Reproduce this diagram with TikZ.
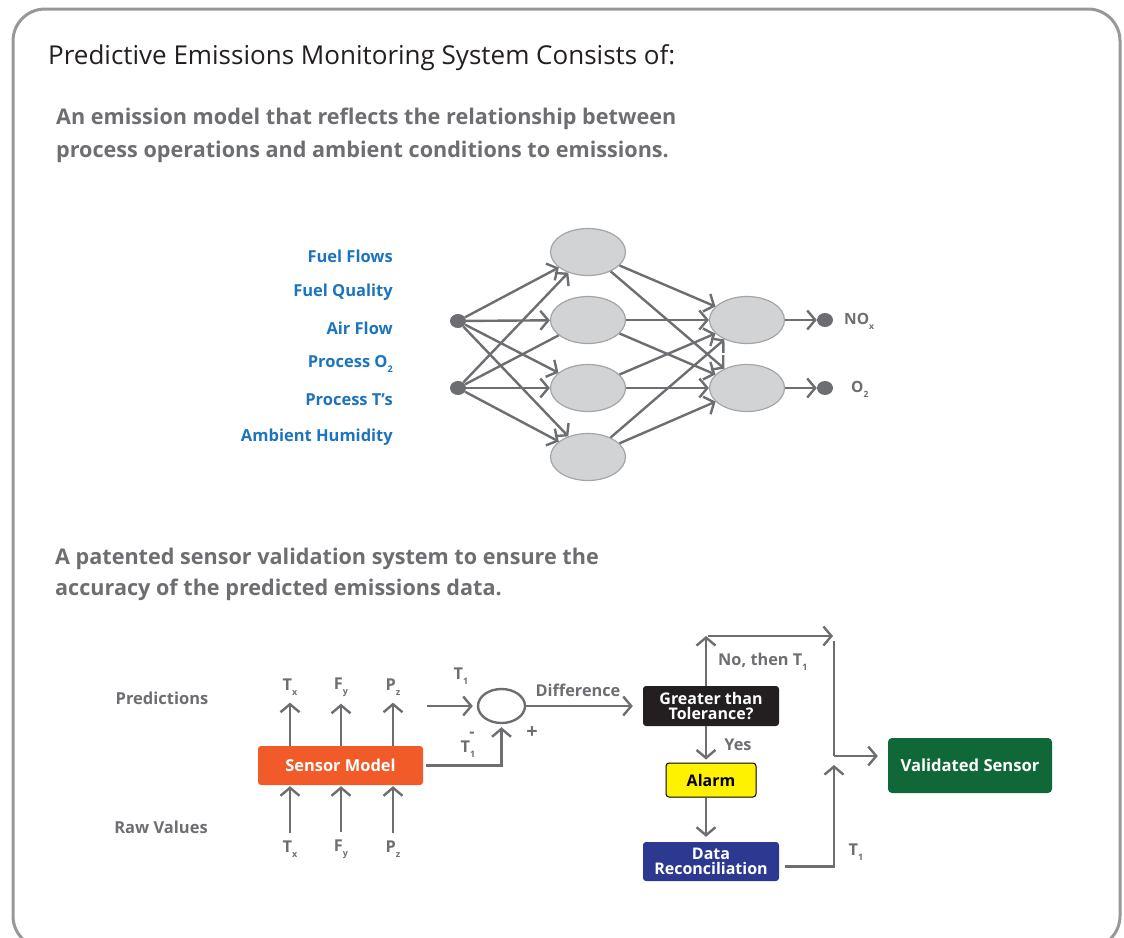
\documentclass[tikz,border=0pt]{standalone}
\usepackage{fontspec}
\setmainfont{Open Sans}
\usepackage{graphicx}
\usetikzlibrary{arrows.meta,shapes.geometric}

\definecolor{framegray}{HTML}{98989C}
\definecolor{inkgray}{HTML}{6D6E71}
\definecolor{titleink}{HTML}{231F20}
\definecolor{labelblue}{HTML}{1C75BC}
\definecolor{cellfill}{HTML}{D1D3D4}
\definecolor{celledge}{HTML}{A3A5A8}
\definecolor{modelorange}{HTML}{F15A29}
\definecolor{checkblack}{HTML}{231F20}
\definecolor{alarmyellow}{HTML}{FFF200}
\definecolor{reconblue}{HTML}{2B3990}
\definecolor{validgreen}{HTML}{106838}

\newcommand\lowsub[1]{\raisebox{-0.32em}{\scalebox{0.55}{#1}}}

\tikzset{
  conn/.style={draw=inkgray, line width=2.4pt,
    -{Straight Barb[length=8pt,width=19pt,line width=2.4pt]}},
  plain/.style={draw=inkgray, line width=2.4pt},
  cell/.style={ellipse, fill=cellfill, draw=celledge, line width=1.2pt,
    minimum width=75pt, minimum height=47pt, inner sep=0pt},
  dot/.style={ellipse, fill=inkgray, minimum width=16pt, minimum height=14pt, inner sep=0pt},
  inlabel/.style={text=labelblue, font=\fontsize{16.5}{20}\selectfont\bfseries, anchor=east, inner sep=0pt},
  glabel/.style={text=inkgray, font=\fontsize{16.3}{19}\selectfont\bfseries, inner sep=0pt},
  box/.style={rounded corners=3pt, text=white, align=center, inner sep=0pt,
    font=\fontsize{16}{17}\selectfont\bfseries},
}

\begin{document}
\begin{tikzpicture}[x=1pt,y=-1pt]
\useasboundingbox (0,0) rectangle (1124,937);

% outer frame, open at the bottom edge
\begin{scope}
  \clip (0,0) rectangle (1124,937);
  \draw[framegray, line width=3pt, rounded corners=32pt] (13,9) rectangle (1120,948);
\end{scope}

% headings
\node[anchor=west, inner sep=0pt, text=titleink, font=\fontsize{26}{30}\selectfont]
  (title) at (48,58) {Predictive Emissions Monitoring System Consists of:};
\node[anchor=north west, inner sep=0pt, text=inkgray, align=left,
  font=\fontsize{21.6}{33}\selectfont\bfseries] (model) at (56,108)
  {An emission model that reflects the relationship between\\
   process operations and ambient conditions to emissions.};
\node[anchor=north west, inner sep=0pt, text=inkgray, align=left,
  font=\fontsize{21.6}{31}\selectfont\bfseries] (valid) at (55,548)
  {A patented sensor validation system to ensure the\\
   accuracy of the predicted emissions data.};

% ---------- emission model network ----------
\node[inlabel] (l1) at (393,256) {Fuel Flows};
\node[inlabel] (l2) at (393,292) {Fuel Quality};
\node[inlabel] (l3) at (393,328) {Air Flow};
\node[inlabel] (l4) at (393,364) {Process O\lowsub{2}};
\node[inlabel] (l5) at (393,400) {Process T’s};
\node[inlabel] (l6) at (393,437) {Ambient Humidity};

\node[dot] (i1) at (458,321) {};
\node[dot] (i2) at (458,388) {};

\node[cell] (h1) at (588,252) {};
\node[cell] (h2) at (588,320) {};
\node[cell] (h3) at (588,388) {};
\node[cell] (h4) at (588,457) {};

\node[cell] (o1) at (747,320) {};
\node[cell] (o2) at (747,388) {};

\node[dot] (d1) at (825,320) {};
\node[dot] (d2) at (825,388) {};
\node[glabel, anchor=west, font=\fontsize{15.5}{18}\selectfont\bfseries] (nox) at (844,321) {NO\lowsub{x}};
\node[glabel, anchor=west, font=\fontsize{15.5}{18}\selectfont\bfseries] (o2l) at (851,389) {O\lowsub{2}};

\foreach \h in {h1,h2,h3,h4} \draw[conn] (i1) -- (\h);
\draw[conn] (i2) -- (h1);
\draw[plain] (i2) -- (h2);
\draw[conn] (i2) -- (h3);
\draw[conn] (i2) -- (h4);
\foreach \h in {h1,h2,h3,h4} {
  \draw[conn] (\h) -- (o1);
  \draw[conn] (\h) -- (o2);
}
\draw[conn] (o1) -- (d1);
\draw[conn] (o2) -- (d2);

% ---------- sensor validation ----------
\node[glabel, font=\fontsize{16.5}{19}\selectfont\bfseries] (pred) at (162,698) {Predictions};
\node[glabel, font=\fontsize{16.5}{19}\selectfont\bfseries] (raw) at (161,827) {Raw Values};

\node[box, fill=modelorange, minimum width=165pt, minimum height=39pt,
  font=\fontsize{16.4}{19}\selectfont\bfseries] (sm) at (340.5,765.5) {Sensor Model};

\node[glabel] (ptx) at (290,687) {T\lowsub{x}};
\node[glabel] (pfy) at (341,687) {F\lowsub{y}};
\node[glabel] (ppz) at (393,687) {P\lowsub{z}};
\node[glabel] (rtx) at (290,849) {T\lowsub{x}};
\node[glabel] (rfy) at (341,849) {F\lowsub{y}};
\node[glabel] (rpz) at (393,849) {P\lowsub{z}};

\foreach \p in {ptx,pfy,ppz} \draw[conn, shorten >=7pt] (sm.north -| \p) -- (\p.south);
\foreach \r in {rtx,rfy,rpz} \draw[conn, shorten <=7pt, shorten >=1pt] (\r.north) -- (sm.south -| \r);

\node[ellipse, draw=inkgray, line width=2.4pt, minimum width=47pt, minimum height=34pt,
  inner sep=0pt] (sum) at (501.5,706) {};
\coordinate (t1in) at (427,706);
\draw[conn, shorten >=4pt] (t1in) -- (sum.west);
\node[glabel] (t1a) at (461,676) {T\lowsub{1}};
\draw[conn, shorten <=3pt, shorten >=3pt] (sm.east) -| (sum.south);
\node[glabel] (minus) at (472,735) {-};
\node[glabel] (t1b) at (468,749) {T\lowsub{1}};
\node[glabel, font=\fontsize{20}{20}\selectfont\bfseries] (plus) at (532,733) {+};

\node[box, fill=checkblack, minimum width=136pt, minimum height=40pt] (gt) at (711,706)
  {Greater than\\[-1.5pt]Tolerance?};
\draw[conn, shorten >=10pt] (sum.east) -- (gt.west);
\node[glabel] (diff) at (578,690) {Difference};

\coordinate (notop) at (706,636);
\coordinate (noend) at (833,636);
\coordinate (vtop) at (834,641);
\coordinate (vjoin) at (834,756);
\coordinate (vbot) at (834,765);

\draw[conn] (gt.north -| notop) -- (notop);
\draw[conn, shorten <=2pt] (notop) -- (noend);
\node[glabel, anchor=west] (noth) at (718,662) {No, then T\lowsub{1}};

\node[box, fill=alarmyellow, draw=black, line width=1pt, text=black,
  minimum width=90pt, minimum height=34pt] (alarm) at (711,780) {Alarm};
\draw[conn, shorten >=3pt] (gt.south -| notop) -- (alarm.north -| notop);
\node[glabel] (yes) at (738,745) {Yes};

\node[box, fill=reconblue, minimum width=136pt, minimum height=39pt] (dr) at (711,861.5)
  {Data\\[-1.5pt]Reconciliation};
\draw[conn, shorten >=5pt] (alarm.south -| notop) -- (dr.north -| notop);

\node[box, fill=validgreen, rounded corners=4pt, minimum width=164pt, minimum height=55pt,
  font=\fontsize{16.6}{19}\selectfont\bfseries] (vs) at (970,765.5) {Validated Sensor};

\draw[plain] (vtop) -- (vjoin);
\draw[conn, shorten >=10pt] (vjoin) -- (vs.west |- vjoin);
\draw[conn, shorten <=6pt] ([yshift=-5pt]dr.east) -| (vbot);
\node[glabel] (t1c) at (856,852) {T\lowsub{1}};

\end{tikzpicture}
\end{document}
